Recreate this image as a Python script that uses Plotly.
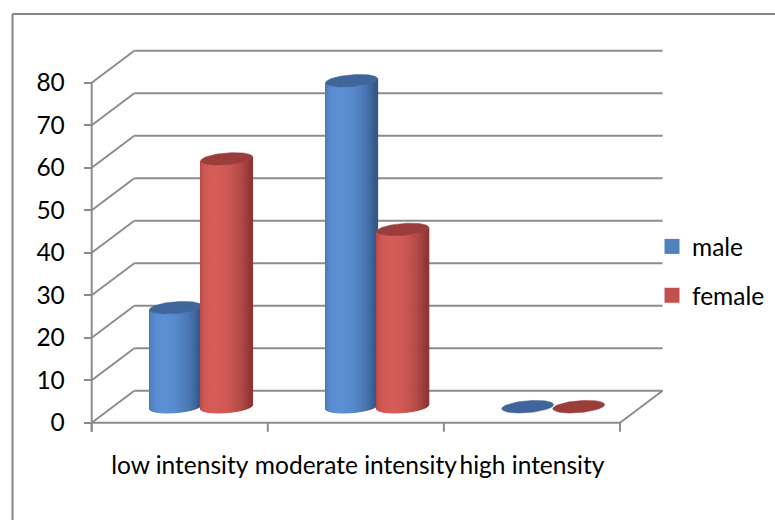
import math
import plotly.graph_objects as go

# ---------------- data ----------------
categories = ["low intensity", "moderate intensity", "high intensity"]
series_names = ["male", "female"]
male = [23.3, 76.7, 0]
female = [58.3, 41.7, 0]
y_ticks = [0, 10, 20, 30, 40, 50, 60, 70, 80]

# ---------------- layout geometry ----------------
W, H = 775, 520
ML, MR, MT, MB = 80, 108, 45, 84
ORIGIN = (91.7, 422.7)      # pixel position of (x=0, y=0) on the front plane
PX_X = 176.1                # pixels per category
PX_Y = 4.25                 # pixels per value unit
pw, ph = W - ML - MR, H - MT - MB
x_range = [(ML - ORIGIN[0]) / PX_X, (W - MR - ORIGIN[0]) / PX_X]
y_range = [(ORIGIN[1] - (H - MB)) / PX_Y, (ORIGIN[1] - MT) / PX_Y]

DEPTH_PX = (42.6, 32.0)     # oblique depth offset (right, up) in pixels
DX, DY = DEPTH_PX[0] / PX_X, DEPTH_PX[1] / PX_Y
TICK_DOWN = 9 / PX_Y
GRID = "#8c8c8c"

fig = go.Figure()

# ---------------- walls, floor and axis lines ----------------
gx, gy = [], []
n_cat = len(categories)
for v in y_ticks:
    gx += [DX, n_cat + DX, None, 0, DX, None]
    gy += [v + DY, v + DY, None, v, v + DY, None]
gx += [0, n_cat, None, n_cat, n_cat + DX, None, 0, 0, None]
gy += [0, 0, None, 0, DY, None, -TICK_DOWN, y_ticks[-1], None]
for i in range(n_cat + 1):
    gx += [i, i, None]
    gy += [0, -TICK_DOWN, None]
fig.add_trace(go.Scatter(x=gx, y=gy, mode="lines", line=dict(color=GRID, width=2),
                         hoverinfo="skip", showlegend=False))

# ---------------- cylinders ----------------
A_PX, B_PX = 24.6, 10.5
U = (DEPTH_PX[0] / math.hypot(*DEPTH_PX), DEPTH_PX[1] / math.hypot(*DEPTH_PX))
HX = math.hypot(A_PX, B_PX * U[0])
TH0 = math.atan2(B_PX * U[0], A_PX)
OFFSETS = [0.355, 0.645]
N_STRIP = 40

styles = {
    "male": dict(dark=(32, 60, 98), bright=(92, 143, 212), cap="#3f659b", legend="#4f81bd"),
    "female": dict(dark=(105, 35, 34), bright=(214, 92, 88), cap="#9b3e3b", legend="#c0504d"),
}


def ell(theta):
    ox = A_PX * math.cos(theta) + B_PX * U[0] * math.sin(theta)
    oy = B_PX * U[1] * math.sin(theta)
    return ox / PX_X, oy / PX_Y, ox


def shade(st, t):
    phi = math.asin(max(-1, min(1, 2 * t - 1)))
    inten = 0.35 + 0.65 * max(0.0, math.cos(phi + 0.45))
    c = [int(round(d + (b - d) * inten)) for d, b in zip(st["dark"], st["bright"])]
    return "rgb(%d,%d,%d)" % tuple(c)


for s, (name, vals) in enumerate(zip(series_names, [male, female])):
    st = styles[name]
    # side strips
    for j in range(N_STRIP):
        t0 = TH0 + math.pi + math.pi * j / N_STRIP
        t1 = TH0 + math.pi + math.pi * (j + 1) / N_STRIP
        x0, y0, p0 = ell(t0)
        x1, y1, p1 = ell(t1)
        tm = ((p0 + p1) / 2 + HX) / (2 * HX)
        col = shade(st, tm)
        xs, ys = [], []
        for i, v in enumerate(vals):
            if v <= 0:
                continue
            cx = i + OFFSETS[s] + DX / 2
            by = DY / 2
            xs += [cx + x0, cx + x1, cx + x1, cx + x0, cx + x0, None]
            ys += [by + y0, by + y1, by + y1 + v, by + y0 + v, by + y0, None]
        if xs:
            fig.add_trace(go.Scatter(x=xs, y=ys, mode="lines", fill="toself",
                                     fillcolor=col, line=dict(color=col, width=1),
                                     hoverinfo="skip", showlegend=False))
    # caps
    xs, ys = [], []
    for i, v in enumerate(vals):
        cx = i + OFFSETS[s] + DX / 2
        by = DY / 2 + v
        for k in range(73):
            ex, ey, _ = ell(2 * math.pi * k / 72)
            xs.append(cx + ex)
            ys.append(by + ey)
        xs.append(None)
        ys.append(None)
    fig.add_trace(go.Scatter(x=xs, y=ys, mode="lines", fill="toself",
                             fillcolor=st["cap"], line=dict(color=st["cap"], width=0.5),
                             hoverinfo="skip", showlegend=False))

# legend entries
for name in series_names:
    fig.add_trace(go.Scatter(x=[None], y=[None], mode="markers", name=name,
                             legendgroup=name,
                             marker=dict(symbol="square", size=15, color=styles[name]["legend"])))


def px_to_paper(X, Y):
    return (X - ML) / pw, 1 - (Y - MT) / ph


bx0, by0 = px_to_paper(12.5, 14)
bx1, _ = px_to_paper(W + 5, 14)
_, by1 = px_to_paper(12.5, H + 5)
fig.add_shape(type="line", xref="paper", yref="paper", x0=bx0, y0=by0, x1=bx1, y1=by0,
              line=dict(color="#868686", width=2))
fig.add_shape(type="line", xref="paper", yref="paper", x0=bx0, y0=by0, x1=bx0, y1=by1,
              line=dict(color="#868686", width=2))

FONT = dict(family="Lato", size=24.5, color="black")
fig.update_layout(
    width=W, height=H,
    margin=dict(l=ML, r=MR, t=MT, b=MB, autoexpand=False),
    paper_bgcolor="white", plot_bgcolor="white",
    font=FONT,
    showlegend=True,
    legend=dict(x=(652 - ML) / pw, y=px_to_paper(0, 224)[1], xanchor="left", yanchor="top",
                font=FONT, tracegroupgap=14, traceorder="grouped",
                bgcolor="rgba(0,0,0,0)"),
    xaxis=dict(range=x_range, tickvals=[i + 0.5 for i in range(n_cat)], ticktext=categories,
               ticks="", showgrid=False, zeroline=False, showline=False,
               ticklabelstandoff=12, automargin=False, fixedrange=True),
    yaxis=dict(range=y_range, tickvals=y_ticks, ticktext=[str(v) for v in y_ticks],
               anchor="free", position=(ORIGIN[0] - ML) / pw,
               ticks="outside", ticklen=8, tickwidth=2, tickcolor=GRID,
               showgrid=False, zeroline=False, showline=False,
               ticklabelstandoff=14, automargin=False, fixedrange=True),
)

fig.write_html("out.html")
